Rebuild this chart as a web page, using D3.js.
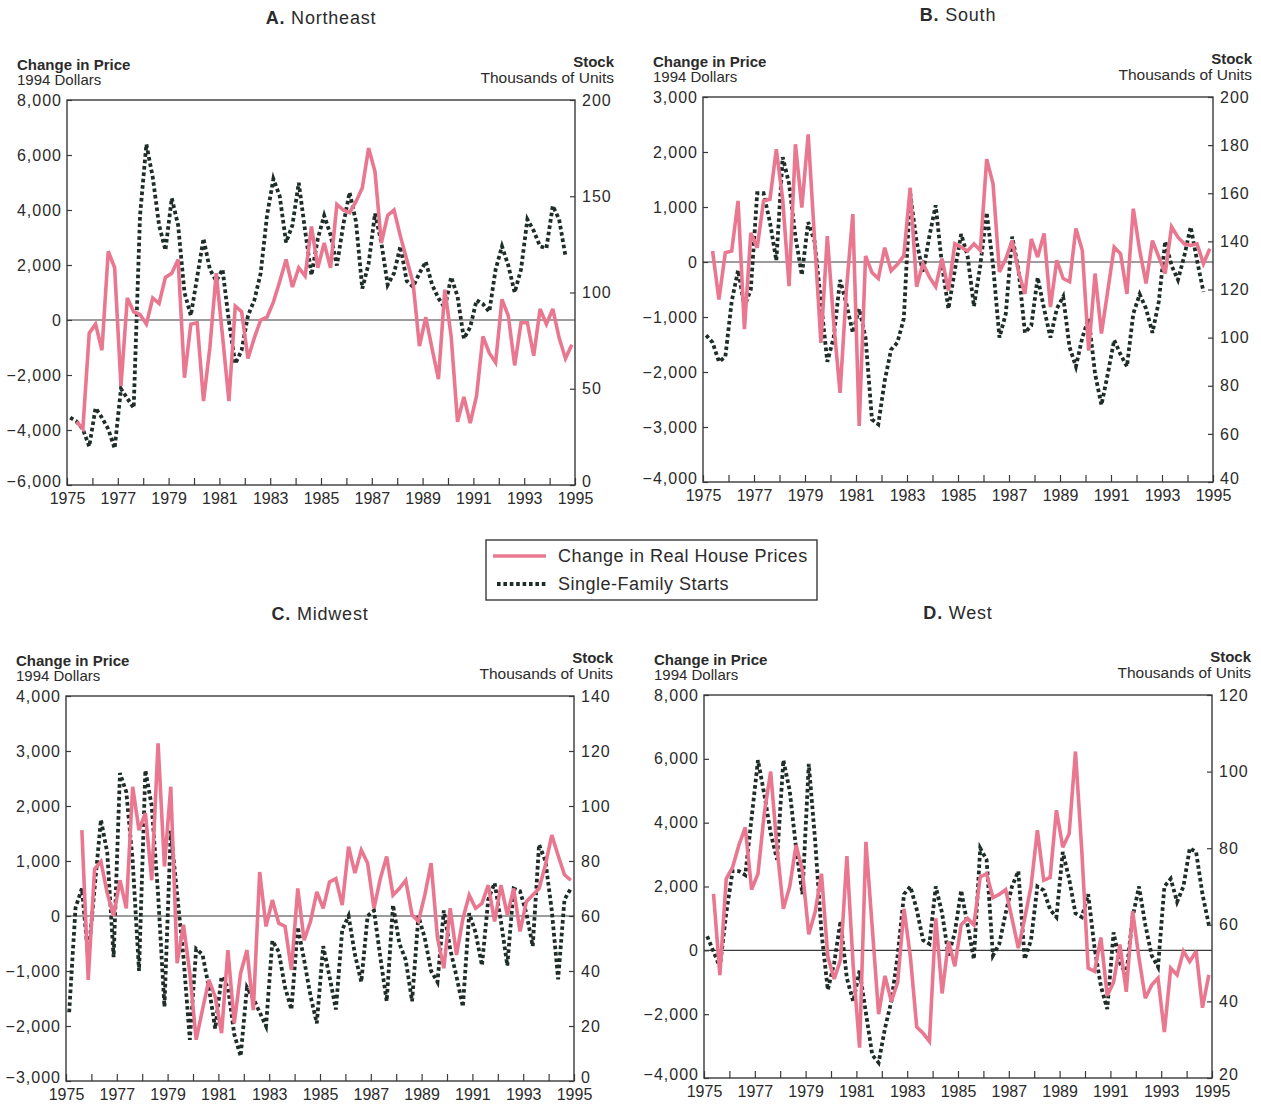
<!DOCTYPE html>
<html>
<head>
<meta charset="utf-8">
<script src="https://d3js.org/d3.v7.min.js"></script>
<style>
  body { margin: 0; background: #fff; }
  svg text { font-family: "Liberation Sans", Arial, sans-serif; fill: #2b2b2b; }
</style>
</head>
<body>
<div id="chart"></div>
<script>
// quarterly values, 1975Q1 .. 1994Q4 (null = not plotted)
const neastPrice = [null, -3700, -3950, -480, -150, -1100, 2500, 1900, -2400, 800, 300, 200, -150, 800, 600, 1550, 1700, 2200, -2100, -150, -100, -2950, -1000, 1700, -600, -2950, 500, 300, -1400, -650, 0, 100, 650, 1400, 2200, 1200, 1900, 1600, 3400, 1900, 2800, 1900, 4200, 4000, 3900, 4300, 4800, 6250, 5400, 2800, 3800, 4000, 3050, 2200, 1350, -950, 100, -1050, -2150, 1100, -600, -3700, -2800, -3750, -2750, -600, -1200, -1550, 750, 150, -1650, -100, -100, -1300, 400, -150, 400, -650, -1400, -900];
const neastStarts = [35, 33, 29, 20, 40, 35, 29, 19, 50, 45, 40, 140, 177, 160, 135, 122, 149, 135, 100, 88, 108, 128, 112, 106, 112, 85, 63, 70, 88, 96, 110, 140, 159, 150, 126, 135, 157, 132, 109, 128, 140, 130, 114, 135, 152, 137, 102, 115, 141, 126, 104, 110, 124, 106, 103, 110, 116, 104, 97, 92, 108, 98, 76, 82, 96, 94, 90, 112, 124, 114, 100, 112, 138, 132, 124, 123, 145, 138, 119, null];

const southPrice = [null, 200, -680, 170, 200, 1110, -1220, 530, 260, 1110, 1140, 2050, 1140, -440, 2140, 990, 2320, 410, -1470, 470, -1100, -2380, -500, 870, -2980, 110, -190, -300, 260, -160, -40, 110, 1350, -450, -30, -270, -450, 60, -520, 330, 270, 200, 330, 210, 1870, 1420, -180, 60, 390, -180, -580, 420, 90, 520, -820, 30, -300, -360, 610, 210, -1610, -210, -1300, -520, 270, 150, -580, 970, 210, -390, 390, 90, -210, 640, 450, 330, 300, 330, -30, 240];
const southStarts = [101, 98, 90, 92, 115, 128, 113, 120, 160, 160, 148, 132, 175, 164, 142, 126, 148, 140, 115, 90, 100, 124, 114, 102, 112, 100, 66, 64, 82, 95, 98, 108, 160, 140, 127, 142, 155, 130, 112, 128, 143, 134, 113, 130, 152, 130, 100, 110, 142, 128, 102, 105, 125, 112, 100, 112, 117, 96, 88, 100, 108, 85, 72, 85, 99, 93, 88, 110, 118, 112, 102, 115, 140, 130, 124, 134, 146, 132, 119, null];

const midwestPrice = [null, null, 1560, -1160, 850, 990, 410, 0, 650, 140, 2350, 1560, 1870, 650, 3140, 900, 2350, -860, -160, -1040, -2250, -1700, -1160, -1470, -2130, -620, -1950, -1040, -620, -1710, 800, -190, 290, -130, -190, -980, 500, -440, -100, 440, 140, 620, 680, 200, 1260, 780, 1200, 960, 140, 680, 1080, 380, 500, 650, 20, -100, 380, 960, -400, -950, 140, -710, -50, 380, 140, 230, 560, -100, 560, 20, 500, -280, 260, 380, 500, 930, 1470, 1100, 750, 650];
const midwestStarts = [25, 63, 70, 45, 70, 95, 83, 45, 112, 105, 80, 40, 113, 100, 68, 27, 91, 68, 45, 15, 48, 46, 34, 19, 38, 34, 17, 9, 34, 30, 25, 20, 51, 47, 34, 26, 56, 44, 31, 21, 49, 38, 26, 55, 60, 46, 36, 60, 62, 45, 29, 64, 50, 44, 29, 60, 52, 40, 36, 62, 48, 38, 27, 61, 54, 42, 66, 72, 58, 42, 70, 69, 61, 49, 86, 80, 62, 37, 66, 70];

const westPrice = [null, 1770, -780, 2240, 2600, 3300, 3850, 1900, 2400, 4300, 5600, 3200, 1300, 2000, 3300, 2500, 500, 1200, 2400, -200, -900, -300, 2950, -500, -3050, 3400, 700, -2000, -800, -1600, -1000, 1300, -200, -2400, -2600, -2850, 1000, -1350, 280, -500, 800, 1000, 800, 2300, 2400, 1650, 1750, 1900, 1000, 70, 1000, 2000, 3760, 2200, 2280, 4390, 3230, 3650, 6230, 3100, -560, -660, 400, -1420, -1000, 180, -1300, 1230, -240, -1500, -1090, -870, -2560, -560, -770, -30, -350, -30, -1800, -770];
const westStarts = [57, 53, 49, 63, 74, 74, 73, 88, 103, 94, 84, 77, 103, 95, 80, 68, 102, 82, 58, 43, 50, 61, 46, 40, 48, 37, 26, 24, 33, 40, 52, 68, 70, 64, 56, 55, 70, 63, 52, 58, 69, 60, 51, 80, 77, 52, 55, 63, 70, 74, 51, 56, 70, 69, 64, 62, 79, 72, 63, 62, 68, 54, 44, 38, 58, 50, 47, 62, 70, 60, 52, 49, 70, 72, 66, 70, 80, 79, 68, 60];

// axis ticks
const yearTicks = d3.range(1975, 1996);
const yearLabels = [1975, 1977, 1979, 1981, 1983, 1985, 1987, 1989, 1991, 1993, 1995];
const neastPriceTicks = [-6000, -4000, -2000, 0, 2000, 4000, 6000, 8000];
const neastStockTicks = [0, 50, 100, 150, 200];
const southPriceTicks = [-4000, -3000, -2000, -1000, 0, 1000, 2000, 3000];
const southStockTicks = [40, 60, 80, 100, 120, 140, 160, 180, 200];
const midwestPriceTicks = [-3000, -2000, -1000, 0, 1000, 2000, 3000, 4000];
const midwestStockTicks = [0, 20, 40, 60, 80, 100, 120, 140];
const westPriceTicks = [-4000, -2000, 0, 2000, 4000, 6000, 8000];
const westStockTicks = [20, 40, 60, 80, 100, 120];

const colors = {
  price: '#ea7790',
  starts: '#1e2d28',
  fg: '#2b2b2b',
  frame: '#3a3a3a'
};

class DualAxisPanel {
  constructor(svg, config, price, starts) {
    this.svg = svg;
    this.config = config;
    this.price = price;
    this.starts = starts;
    this.init();
  }

  init() {
    const that = this;
    const c = that.config;
    that.g = that.svg.append('g').attr('class', 'panel');

    that.x = d3.scaleLinear().domain([1975, 1995]).range([c.left, c.right]);
    that.yLeft = d3.scaleLinear()
      .domain(d3.extent(c.priceTicks))
      .range([c.bottom, c.top]);
    that.yRight = d3.scaleLinear()
      .domain(d3.extent(c.stockTicks))
      .range([c.bottom, c.top]);
  }

  render() {
    const that = this;
    const c = that.config;
    const g = that.g;
    const w = c.right - c.left;

    // title
    const title = g.append('text')
      .attr('x', (c.left + c.right) / 2)
      .attr('y', c.top - 76)
      .attr('text-anchor', 'middle')
      .style('font-size', '18px')
      .style('letter-spacing', '0.8px');
    title.append('tspan').style('font-weight', 'bold').text(c.letter + '.');
    title.append('tspan').text(' ' + c.name);

    // axis headings
    g.append('text').attr('x', c.left - 50).attr('y', c.top - 30)
      .style('font-size', '15px').style('font-weight', 'bold').text('Change in Price');
    g.append('text').attr('x', c.left - 50).attr('y', c.top - 15)
      .style('font-size', '15px').text('1994 Dollars');
    g.append('text').attr('x', c.right + 39).attr('y', c.top - 33)
      .attr('text-anchor', 'end')
      .style('font-size', '15px').style('font-weight', 'bold').text('Stock');
    g.append('text').attr('x', c.right + 39).attr('y', c.top - 17)
      .attr('text-anchor', 'end')
      .style('font-size', '15.5px').text('Thousands of Units');

    // left axis
    g.append('g')
      .attr('class', 'leftAxis')
      .attr('transform', `translate(${c.left},0)`)
      .call(d3.axisLeft(that.yLeft).tickValues(c.priceTicks).tickSizeInner(-5).tickSizeOuter(0).tickPadding(5).tickFormat(d3.format(',')));

    // right axis
    g.append('g')
      .attr('class', 'rightAxis')
      .attr('transform', `translate(${c.right},0)`)
      .call(d3.axisRight(that.yRight).tickValues(c.stockTicks).tickSizeInner(-5).tickSizeOuter(0).tickPadding(7));

    // years
    g.append('g')
      .attr('class', 'xAxis')
      .attr('transform', `translate(0,${c.bottom})`)
      .call(d3.axisBottom(that.x).tickValues(yearTicks).tickSizeInner(-7).tickSizeOuter(0).tickPadding(8)
        .tickFormat(d => yearLabels.includes(d) ? d : ''));

    g.selectAll('.domain').remove();
    g.selectAll('.tick line').attr('stroke', colors.frame).attr('stroke-width', 1.2);
    g.selectAll('.leftAxis text, .rightAxis text, .xAxis text')
      .attr('fill', colors.fg)
      .style('font-size', '16px')
      .style('font-family', '"Liberation Sans", Arial, sans-serif');
    g.selectAll('.leftAxis text, .rightAxis text')
      .style('letter-spacing', '1px');
    // lowest value labels sit a little higher, as in the print
    g.selectAll('.leftAxis .tick:first-of-type text, .rightAxis .tick:first-of-type text')
      .attr('dy', '0.1em');

    // frame
    g.append('rect')
      .attr('x', c.left).attr('y', c.top)
      .attr('width', w).attr('height', c.bottom - c.top)
      .attr('fill', 'none')
      .attr('stroke', colors.frame)
      .attr('stroke-width', 1.4);

    // zero line
    g.append('line')
      .attr('x1', c.left).attr('x2', c.right)
      .attr('y1', that.yLeft(0)).attr('y2', that.yLeft(0))
      .attr('stroke', colors.frame)
      .attr('stroke-width', 1.2);

    const quarter = i => 1975.125 + i / 4;

    const startsLine = d3.line()
      .defined(d => d != null)
      .x((d, i) => that.x(quarter(i)))
      .y(d => that.yRight(d));

    const priceLine = d3.line()
      .defined(d => d != null)
      .x((d, i) => that.x(quarter(i)))
      .y(d => that.yLeft(d));

    g.append('path')
      .datum(that.starts)
      .attr('class', 'starts')
      .attr('d', startsLine)
      .attr('fill', 'none')
      .attr('stroke', colors.starts)
      .attr('stroke-width', 3.8)
      .attr('stroke-dasharray', '3.6,2.8');

    g.append('path')
      .datum(that.price)
      .attr('class', 'price')
      .attr('d', priceLine)
      .attr('fill', 'none')
      .attr('stroke', colors.price)
      .attr('stroke-width', 3.6)
      .attr('stroke-linejoin', 'miter')
      .attr('stroke-miterlimit', 3);
  }
}

const svg = d3.select('#chart')
  .append('svg')
  .attr('width', 1261)
  .attr('height', 1106);

svg.append('rect').attr('width', 1261).attr('height', 1106).attr('fill', '#fff');

const panels = [
  { letter: 'A', name: 'Northeast', left: 67, right: 575, top: 100, bottom: 485,
    priceTicks: neastPriceTicks, stockTicks: neastStockTicks, price: neastPrice, starts: neastStarts },
  { letter: 'B', name: 'South', left: 703, right: 1213, top: 97, bottom: 482,
    priceTicks: southPriceTicks, stockTicks: southStockTicks, price: southPrice, starts: southStarts },
  { letter: 'C', name: 'Midwest', left: 66, right: 574, top: 696, bottom: 1081,
    priceTicks: midwestPriceTicks, stockTicks: midwestStockTicks, price: midwestPrice, starts: midwestStarts },
  { letter: 'D', name: 'West', left: 704, right: 1212, top: 695, bottom: 1078,
    priceTicks: westPriceTicks, stockTicks: westStockTicks, price: westPrice, starts: westStarts }
];

panels.forEach(p => new DualAxisPanel(svg, p, p.price, p.starts).render());

// legend
const legend = svg.append('g').attr('class', 'legend').attr('transform', 'translate(486,540)');
legend.append('rect')
  .attr('width', 331).attr('height', 60)
  .attr('fill', '#fff')
  .attr('stroke', colors.frame)
  .attr('stroke-width', 1.4);
legend.append('line')
  .attr('x1', 7).attr('x2', 60).attr('y1', 16).attr('y2', 16)
  .attr('stroke', colors.price).attr('stroke-width', 3.6);
legend.append('text').attr('x', 72).attr('y', 22)
  .style('font-size', '18px').style('letter-spacing', '0.5px').text('Change in Real House Prices');
legend.append('line')
  .attr('x1', 11).attr('x2', 60).attr('y1', 44).attr('y2', 44)
  .attr('stroke', colors.starts).attr('stroke-width', 3.8)
  .attr('stroke-dasharray', '3.6,2.8');
legend.append('text').attr('x', 72).attr('y', 50)
  .style('font-size', '18px').style('letter-spacing', '0.5px').text('Single-Family Starts');
</script>
</body>
</html>
